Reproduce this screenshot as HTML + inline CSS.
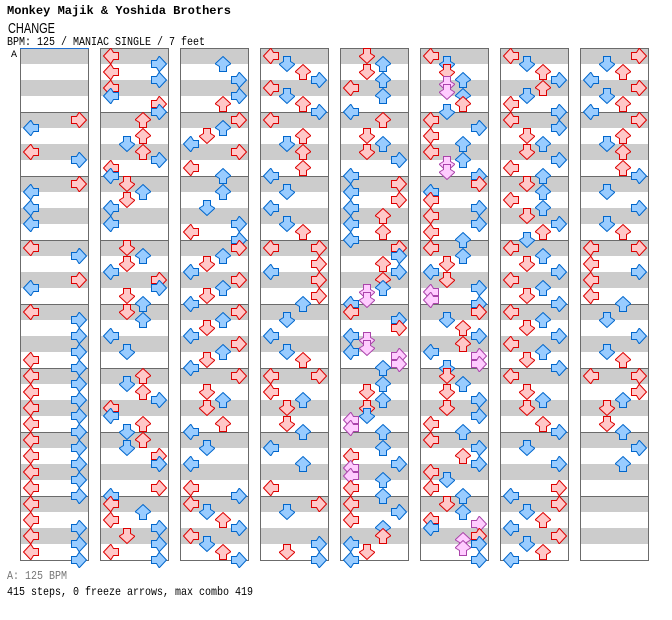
<!DOCTYPE html>
<html><head><meta charset="utf-8">
<style>
html,body{margin:0;padding:0;background:#fff;width:672px;height:620px;overflow:hidden}
svg{display:block}
.r{fill:#ffc8c8;stroke:#dd0000;stroke-width:1}
.b{fill:#99ccff;stroke:#0066cc;stroke-width:1}
.p{fill:#ffccff;stroke:#aa44aa;stroke-width:1}
</style></head><body>
<svg id="s" width="672" height="620" viewBox="0 0 672 620" xmlns="http://www.w3.org/2000/svg" xmlns:xlink="http://www.w3.org/1999/xlink">
<defs>
<pattern id="bands" patternUnits="userSpaceOnUse" x="0" y="48" width="672" height="64">
<rect x="0" y="0" width="672" height="64" fill="#fff"/>
<rect x="0" y="0" width="672" height="16" fill="#cccccc"/>
<rect x="0" y="32" width="672" height="16" fill="#cccccc"/>
<rect x="0" y="0" width="672" height="1" fill="#6b6b6b"/>
</pattern>
<path id="up" d="M8 0.5 L15.5 7.5 L15.5 8 L11.5 10.5 L11.5 15.5 L4.5 15.5 L4.5 10.5 L0.5 8 L0.5 7.5 Z"/>
</defs>
<rect x="0" y="0" width="672" height="620" fill="#fff"/>
<text x="7" y="14" font-family="Liberation Mono, monospace" font-weight="bold" font-size="12" textLength="224" lengthAdjust="spacingAndGlyphs" fill="#000">Monkey Majik &amp;  Yoshida Brothers</text>
<text x="8" y="33" font-family="Liberation Sans, sans-serif" font-size="15" textLength="47" lengthAdjust="spacingAndGlyphs" fill="#000">CHANGE</text>
<text x="7" y="45" font-family="Liberation Mono, monospace" font-size="12" textLength="198" lengthAdjust="spacingAndGlyphs" fill="#000">BPM: 125 / MANIAC SINGLE / 7 feet</text>
<text x="11" y="57" font-family="Liberation Mono, monospace" font-size="10" fill="#000">A</text>
<g id="cols">
<rect x="20.5" y="48.5" width="68" height="512" fill="url(#bands)" stroke="#6b6b6b"/>
<rect x="100.5" y="48.5" width="68" height="512" fill="url(#bands)" stroke="#6b6b6b"/>
<rect x="180.5" y="48.5" width="68" height="512" fill="url(#bands)" stroke="#6b6b6b"/>
<rect x="260.5" y="48.5" width="68" height="512" fill="url(#bands)" stroke="#6b6b6b"/>
<rect x="340.5" y="48.5" width="68" height="512" fill="url(#bands)" stroke="#6b6b6b"/>
<rect x="420.5" y="48.5" width="68" height="512" fill="url(#bands)" stroke="#6b6b6b"/>
<rect x="500.5" y="48.5" width="68" height="512" fill="url(#bands)" stroke="#6b6b6b"/>
<rect x="580.5" y="48.5" width="68" height="512" fill="url(#bands)" stroke="#6b6b6b"/>
</g>
<line x1="20" y1="48.5" x2="89" y2="48.5" stroke="#1f6fd1" stroke-width="1"/>
<g id="arrows"></g>
<text x="7" y="579" font-family="Liberation Mono, monospace" font-size="12" textLength="60" lengthAdjust="spacingAndGlyphs" fill="#777">A: 125 BPM</text>
<text x="7" y="595" font-family="Liberation Mono, monospace" font-size="12" textLength="246" lengthAdjust="spacingAndGlyphs" fill="#000">415 steps, 0 freeze arrows, max combo 419</text>
</svg>
<script>
(function(){
var D=[
"",
"0R 2L 8L 10R",
"0R 2L 6L 10L",
"0L 2R 8R 10L",
"0L 2R 6R 10R 12L 14R",
"0L 2R 4L 6R 8L 10R 12L 14R",
"0L 2R 4L 6R 8L 10R 12L 14R",
"0L 4L 6R 8L 10R 12L 14R",
"0L 2R 4L 6R 8L 10L 12R 14R",
"0U 4U 6D 8U 10R 12L 14L",
"0D 2U 4D 6L 10L",
"0D 2U 4D 6L 8R 10R 12D 14U",
"0D 2U 6L 10D",
"0U 2D 4U 6R 8L 10L 12U 14D",
"0U 2D 4R 6R 12R 14L",
"0L 2U 4L 6R 8D 10R 12L 14R",
"2U 6R 10R 12U",
"0R 2U 4D 6L 8R 12L 14U",
"2U 6D 10R 12L 14R",
"0R 2U 4D 6L 8R 10U 12D 14L",
"0R 2U 4D 6L 8R 10U 12D 14L",
"0R 4D 6U 8D 12U 14L",
"2D 6L 12L 14R",
"0L 2D 4U 6R 8L 10D 12U 14R",
"0L 2D 4U 6R 8L 10D 12U 14R",
"0L 4U 6D 8U 12U 14L",
"2D 6L 10D 12U",
"0LR 4R 6L 8R 12R 14U",
"2D 6L 10D 12U",
"0LR 4L 6U 8D 12D 14U",
"2L 6U 12L",
"0R 2D 10R 12D 14R",
"0D 2U 4D 6U 8L 10U 14L",
"0U 4D 6U 8D 10R 14L",
"0R 2L 4R 6L 8U 10L 12U 14L",
"0R 2R 4U 6R 8U 10U 11D 13D 14L",
"0L 2R 4R 6L 7D 9D 10L 11R 13R 14U",
"2U 4D 6U 8D 10D 11L 13L 14U",
"2U 4L 6R 7L 9L 10U 12L 14U",
"0L 2R 4L 6U 8U 10L 12D 14L",
"0L 2D 4D 6U 7D 9D 10U 12U 14D",
"0L 2R 4L 6U 8L 10U 11D 13D 14R",
"0R 2L 4L 6R 8L 10R 12L 14U",
"0L 2U 4D 6L 8D 10R 11L 13L 14R",
"0R 2D 4U 6R 8U 10L 11R 13R 14D",
"0D 2U 4D 6R 8D 10R 12L 14U",
"0L 2R 4U 6R 8L 10D 12L 14U",
"0D 2U 4L 5R 6L 8R 9U 10R 11U 14R",
"0L 2D 4U 6R 8U 10D 12L 14R",
"0L 2R 4D 6U 8D 10R 12L 14U",
"0D 2U 4L 6U 8D 10R 12U 14D",
"0L 2U 4D 6R 8L 10U 12D 14R",
"0L 2U 4D 6R 8L 10U 12D 14R",
"0L 4D 6U 8D 12U 14R",
"2D 6R 12R 14L",
"0R 2D 4U 6L 8R 10D 12U 14L",
"0R 2D 4U 6L 8R 10D 12U 14L",
"0R 4U 6D 8U 12U 14R",
"2D 6R 10D 12U",
"0LR 4L 6R 8L 12L 14U",
"2D 6R 10D 12U",
"0LR 4R 6U 8D 12D 14U",
"2R 6U",
""
];
var ns="http://www.w3.org/2000/svg",xl="http://www.w3.org/1999/xlink";
var g=document.getElementById("arrows");
var rot={L:-90,D:180,U:0,R:90},lane={L:0,D:1,U:2,R:3};
for(var m=0;m<64;m++){
  var toks=D[m]?D[m].split(" "):[];
  var notes=[];
  for(var t=0;t<toks.length;t++){
    var tk=toks[t];var n=parseInt(tk,10);var ls=tk.replace(/^\d+/,"");
    for(var i=0;i<ls.length;i++)notes.push([n,ls.charAt(i)]);
  }
  notes.sort(function(a,b){return a[0]-b[0];});
  var col=Math.floor(m/8),mi=m%8;
  for(var k=0;k<notes.length;k++){
    var nt=notes[k];
    var x=20+80*col+3+16*lane[nt[1]];
    var y=48+64*mi+4*nt[0];
    var u=document.createElementNS(ns,"use");
    u.setAttribute("href","#up");
    u.setAttributeNS(xl,"xlink:href","#up");
    u.setAttribute("transform","translate("+x+" "+y+") rotate("+rot[nt[1]]+" 8 8)");
    var c=(nt[0]%4===0)?"r":((nt[0]%4===2)?"b":"p");
    u.setAttribute("class",c);
    g.appendChild(u);
  }
}
})();
</script>
</body></html>
